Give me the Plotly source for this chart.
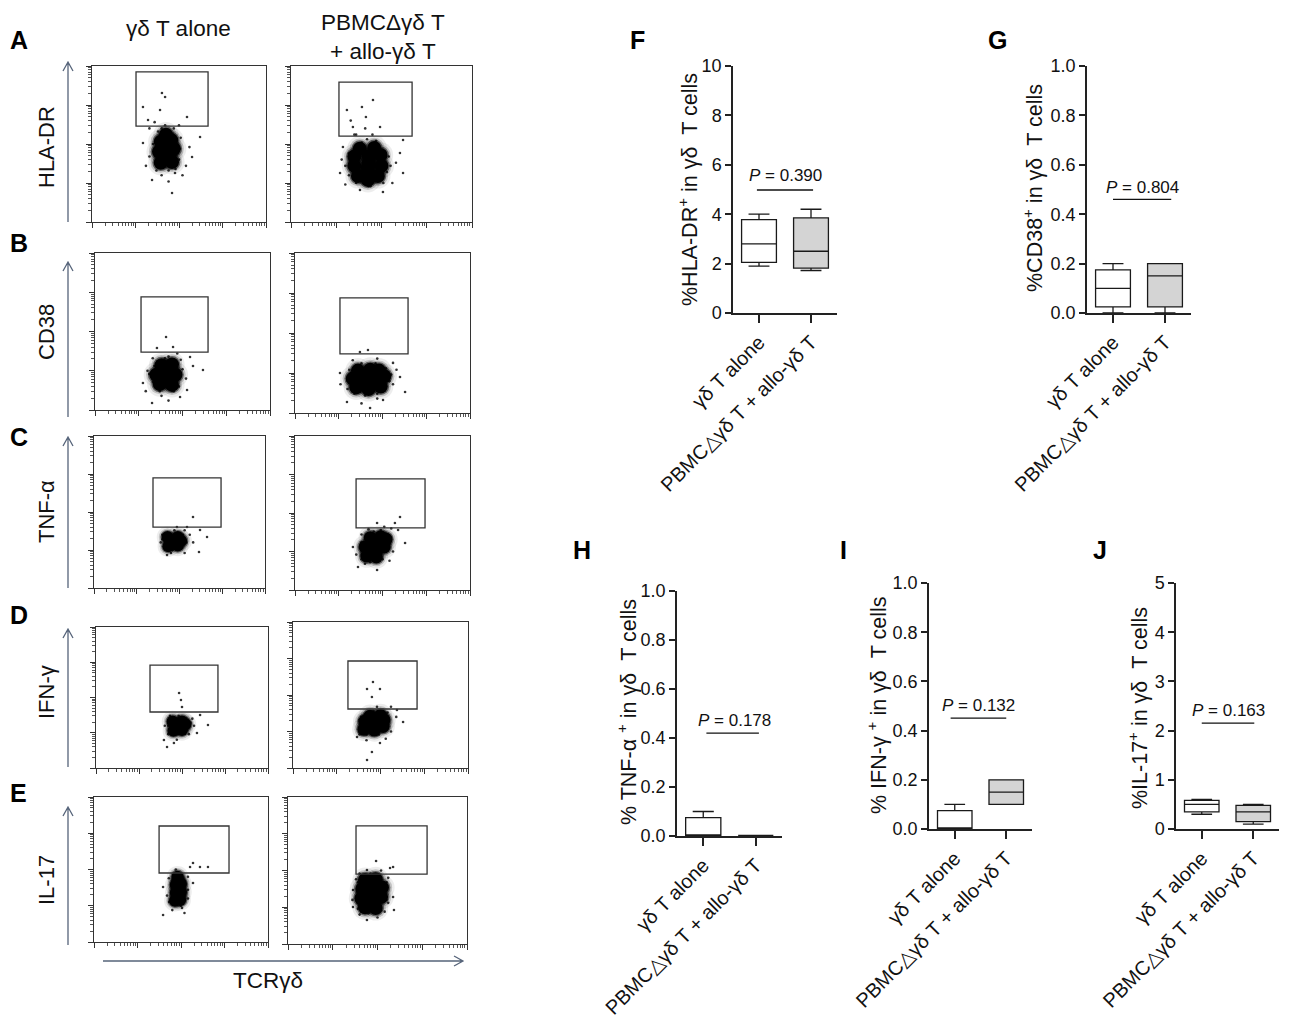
import numpy as np
import plotly.graph_objects as go

W, H = 1292, 1024
OFF = 8  # page body offset of the rendered figure
FONT = "Liberation Sans, Arial, sans-serif"
NB = "\u00a0"

# ------------------------------------------------------------------ data
GROUPS = ["γδ T alone", "PBMC△γδ T + allo-γδ T"]

# five-number summaries [min, q1, median, q3, max]
HLADR_ALONE = [1.9, 2.05, 2.8, 3.78, 4.0]
HLADR_COCULT = [1.72, 1.82, 2.5, 3.85, 4.2]
CD38_ALONE = [0.0, 0.025, 0.10, 0.175, 0.20]
CD38_COCULT = [0.0, 0.025, 0.15, 0.20, 0.20]
TNF_ALONE = [0.0, 0.0, 0.0, 0.075, 0.10]
TNF_COCULT = [0.002, 0.002, 0.002, 0.002, 0.002]
IFN_ALONE = [0.0, 0.0, 0.0, 0.075, 0.10]
IFN_COCULT = [0.10, 0.10, 0.15, 0.20, 0.20]
IL17_ALONE = [0.30, 0.35, 0.50, 0.58, 0.60]
IL17_COCULT = [0.10, 0.15, 0.35, 0.48, 0.50]

P_VALUES = ["0.390", "0.804", "0.178", "0.132", "0.163"]
Y_TITLES = [f"%HLA-DR<sup>+</sup> in γδ {NB}T cells",
            f"%CD38<sup>+</sup> in γδ {NB}T cells",
            f"% TNF-α <sup>+</sup> in γδ {NB}T cells",
            f"% IFN-γ <sup>+</sup> in γδ {NB}T cells",
            f"%IL-17<sup>+</sup> in γδ {NB}T cells"]
Y_MAX = [10, 1.0, 1.0, 1.0, 5]
Y_TICKVALS = [[0, 2, 4, 6, 8, 10],
              [0, 0.2, 0.4, 0.6, 0.8, 1.0],
              [0, 0.2, 0.4, 0.6, 0.8, 1.0],
              [0, 0.2, 0.4, 0.6, 0.8, 1.0],
              [0, 1, 2, 3, 4, 5]]
Y_TICKTEXT = [["0", "2", "4", "6", "8", "10"],
              ["0.0", "0.2", "0.4", "0.6", "0.8", "1.0"],
              ["0.0", "0.2", "0.4", "0.6", "0.8", "1.0"],
              ["0.0", "0.2", "0.4", "0.6", "0.8", "1.0"],
              ["0", "1", "2", "3", "4", "5"]]

ROW_MARKERS = ["HLA-DR", "CD38", "TNF-α", "IFN-γ", "IL-17"]
COLUMN_TITLES = ["γδ T alone", "PBMCΔγδ T<br>+ allo-γδ T"]

# flow cytometry events (channel units 0-1000, log display) : gates [x0, x1, y0, y1]
HLA_ALONE_GATE = [253, 667, 615, 962]
HLA_ALONE_CORE = [(395, 380), (460, 385), (385, 450), (450, 445), (470, 470), (395, 515),
                  (455, 525), (425, 560), (430, 415), (430, 490)]
HLA_ALONE_EVENTS = [(402, 827), (420, 801), (293, 737), (621, 545), (460, 186), (345, 269),
                    (546, 673), (322, 654), (391, 718), (575, 417), (293, 506), (477, 314),
                    (330, 600), (360, 640), (500, 620), (520, 300), (330, 420), (560, 480),
                    (400, 300), (440, 260), (310, 360), (540, 360),
                    (370, 330), (480, 340), (500, 400), (350, 500), (510, 540), (380, 580),
                    (470, 600), (420, 620), (360, 470), (505, 470), (440, 330), (400, 600)]
HLA_COCULT_GATE = [265, 669, 551, 897]
HLA_COCULT_CORE = [(425, 270), (370, 295), (480, 295), (350, 360), (425, 350), (500, 360),
                   (350, 420), (430, 420), (495, 430), (380, 470), (460, 475), (425, 310),
                   (430, 385)]
HLA_COCULT_EVENTS = [(392, 737), (309, 718), (414, 673), (342, 609), (492, 609), (619, 526),
                     (271, 314), (619, 314), (381, 205), (508, 192), (602, 442), (287, 481),
                     (453, 782), (330, 650), (360, 560), (450, 560), (280, 400), (560, 250),
                     (300, 240), (440, 230), (580, 380), (350, 560), (410, 600),
                     (320, 300), (530, 320), (540, 420), (320, 440), (390, 510), (470, 520),
                     (430, 230), (360, 250), (510, 250), (300, 360), (550, 360), (420, 530)]
CD38_ALONE_GATE = [263, 646, 369, 720]
CD38_ALONE_CORE = [(370, 165), (440, 160), (350, 225), (410, 230), (460, 225), (380, 285),
                   (440, 290), (410, 190), (420, 260)]
CD38_ALONE_EVENTS = [(406, 465), (354, 395), (446, 401), (617, 255), (326, 45), (274, 172),
                     (526, 127), (543, 338), (486, 83), (300, 250), (520, 200), (330, 330),
                     (470, 360), (380, 90), (560, 280), (290, 120), (420, 60),
                     (330, 180), (480, 150), (500, 260), (340, 280), (400, 330), (450, 120),
                     (370, 120), (310, 230), (490, 320), (420, 340)]
CD38_COCULT_GATE = [257, 646, 369, 719]
CD38_COCULT_CORE = [(350, 160), (420, 150), (490, 165), (330, 215), (400, 215), (470, 220),
                    (510, 230), (360, 265), (430, 270), (480, 265), (420, 185)]
CD38_COCULT_EVENTS = [(417, 394), (371, 381), (560, 313), (629, 131), (297, 69), (429, 31),
                      (257, 250), (503, 81), (600, 225), (300, 150), (560, 180), (470, 340),
                      (330, 330), (260, 180), (380, 60), (580, 270), (470, 90),
                      (300, 200), (540, 200), (520, 280), (310, 270), (380, 310), (460, 310),
                      (400, 110), (470, 120), (340, 120), (550, 240)]
TNF_ALONE_GATE = [345, 743, 401, 724]
TNF_ALONE_CORE = [(435, 275), (490, 280), (430, 335), (490, 335), (462, 305), (510, 310)]
TNF_ALONE_EVENTS = [(579, 467), (620, 382), (544, 401), (614, 237), (427, 217), (409, 270),
                    (485, 401), (661, 336), (560, 350), (390, 300), (530, 230), (450, 230),
                    (580, 300), (400, 350), (530, 380),
                    (420, 250), (510, 260), (520, 350), (420, 360), (470, 380), (460, 250),
                    (400, 320), (540, 300)]
TNF_COCULT_GATE = [349, 743, 403, 721]
TNF_COCULT_CORE = [(410, 220), (465, 215), (400, 280), (455, 285), (510, 280), (430, 340),
                   (490, 345), (520, 330), (460, 250)]
TNF_COCULT_EVENTS = [(600, 474), (571, 435), (589, 390), (469, 435), (360, 149), (469, 130),
                     (629, 305), (331, 279), (550, 400), (560, 250), (350, 230), (400, 170),
                     (540, 190), (380, 360), (510, 410), (420, 395),
                     (380, 200), (500, 200), (540, 300), (380, 310), (450, 380), (530, 360),
                     (430, 180), (490, 390)]
IFN_ALONE_GATE = [314, 709, 397, 730]
IFN_ALONE_CORE = [(450, 265), (500, 270), (445, 330), (500, 330), (475, 300), (520, 310)]
IFN_ALONE_EVENTS = [(483, 532), (494, 482), (500, 433), (605, 376), (651, 305), (413, 149),
                    (453, 177), (395, 199), (587, 248), (560, 350), (420, 240), (400, 300),
                    (540, 240), (430, 370), (570, 300), (470, 200),
                    (430, 250), (520, 260), (530, 340), (430, 350), (480, 370), (470, 240),
                    (420, 300), (550, 320)]
IFN_COCULT_GATE = [314, 709, 404, 733]
IFN_COCULT_CORE = [(405, 265), (465, 260), (410, 320), (470, 320), (520, 330), (440, 355),
                   (500, 360), (515, 285), (440, 290)]
IFN_COCULT_EVENTS = [(457, 589), (423, 541), (497, 541), (451, 486), (594, 397), (629, 315),
                     (423, 55), (451, 110), (366, 212), (497, 171), (380, 330), (560, 420),
                     (560, 250), (380, 230), (420, 190), (530, 200), (480, 420), (590, 350),
                     (380, 250), (490, 230), (540, 310), (390, 350), (460, 390), (540, 380),
                     (420, 230), (520, 270)]
IL17_ALONE_GATE = [374, 776, 476, 800]
IL17_ALONE_CORE = [(465, 285), (495, 290), (470, 340), (500, 345), (470, 395), (500, 400),
                   (480, 450), (490, 315), (485, 370), (485, 425)]
IL17_ALONE_EVENTS = [(569, 545), (609, 517), (655, 517), (552, 517), (397, 186), (431, 276),
                     (506, 234), (569, 407), (397, 379), (420, 320), (540, 300), (540, 450),
                     (430, 440), (520, 200), (450, 220), (540, 360), (470, 500),
                     (450, 260), (510, 270), (515, 340), (450, 350), (520, 420), (455, 420),
                     (480, 480), (500, 250)]
IL17_COCULT_GATE = [380, 777, 476, 803]
IL17_COCULT_CORE = [(430, 250), (490, 245), (410, 310), (470, 310), (520, 320), (415, 375),
                    (475, 375), (525, 385), (430, 435), (490, 440), (450, 345), (455, 280),
                    (460, 410)]
IL17_COCULT_EVENTS = [(492, 565), (587, 524), (570, 517), (363, 367), (587, 320), (441, 163),
                      (363, 252), (592, 231), (441, 503), (360, 300), (380, 440), (560, 450),
                      (540, 220), (400, 200), (500, 180), (560, 280), (400, 480), (520, 500),
                      (390, 240), (520, 230), (550, 300), (385, 330), (390, 420), (550, 420),
                      (460, 480), (510, 470), (450, 210)]

# ------------------------------------------------------------------ layout helpers
def fx(p):
    return (p - OFF) / W


def fy(p):
    return 1 - (p - OFF) / H


def axname(i, kind):
    return kind if i == 1 else f"{kind}{i}"


fig = go.Figure()
layout = dict(width=W, height=H, autosize=False,
              margin=dict(l=0, r=0, t=0, b=0, pad=0, autoexpand=False),
              paper_bgcolor="white", plot_bgcolor="white", showlegend=False,
              font=dict(family=FONT, color="#111"))
shapes, annotations = [], []

# ---------------- dot plots
DOT_SETS = [
    (HLA_ALONE_GATE, HLA_ALONE_CORE, HLA_ALONE_EVENTS),
    (HLA_COCULT_GATE, HLA_COCULT_CORE, HLA_COCULT_EVENTS),
    (CD38_ALONE_GATE, CD38_ALONE_CORE, CD38_ALONE_EVENTS),
    (CD38_COCULT_GATE, CD38_COCULT_CORE, CD38_COCULT_EVENTS),
    (TNF_ALONE_GATE, TNF_ALONE_CORE, TNF_ALONE_EVENTS),
    (TNF_COCULT_GATE, TNF_COCULT_CORE, TNF_COCULT_EVENTS),
    (IFN_ALONE_GATE, IFN_ALONE_CORE, IFN_ALONE_EVENTS),
    (IFN_COCULT_GATE, IFN_COCULT_CORE, IFN_COCULT_EVENTS),
    (IL17_ALONE_GATE, IL17_ALONE_CORE, IL17_ALONE_EVENTS),
    (IL17_COCULT_GATE, IL17_COCULT_CORE, IL17_COCULT_EVENTS),
]
DOT_FRAMES = [(92, 266, 66, 222), (291, 472, 66, 222),
              (95, 270, 253, 410), (295, 470, 253, 413),
              (94, 265, 436, 588), (295, 470, 436, 590),
              (96, 268, 627, 768), (293, 468, 622, 768),
              (94, 268, 797, 942), (288, 467, 797, 944)]
CORE_SIZE = [14, 14, 14, 14, 12, 13, 12, 13, 12, 14]

major = [0, 250, 500, 750, 1000]
minor = [250 * k + 250 * np.log10(m) for k in range(4) for m in range(2, 10)]

for i, ((gate, core, events), (x0, x1, yt, yb)) in enumerate(zip(DOT_SETS, DOT_FRAMES)):
    n = i + 1
    xa, ya = axname(n, "xaxis"), axname(n, "yaxis")
    xr, yr = axname(n, "x"), axname(n, "y")
    common = dict(range=[0, 1000], showline=True, mirror=True, linecolor="#333", linewidth=1,
                  ticks="outside", tickvals=major, ticklen=5, tickcolor="#333", tickwidth=1,
                  showticklabels=False, showgrid=False, zeroline=False, fixedrange=True,
                  automargin=False,
                  minor=dict(tickvals=minor, ticklen=3, ticks="outside", tickcolor="#555",
                             showgrid=False))
    layout[xa] = dict(domain=[fx(x0), fx(x1)], anchor=yr, **common)
    layout[ya] = dict(domain=[fy(yb), fy(yt)], anchor=xr, **common)
    cx = [p[0] for p in core]
    cy = [p[1] for p in core]
    s = CORE_SIZE[i]
    for mult, op in [(1.8, 0.07), (1.45, 0.18), (1.2, 0.5), (1.0, 1.0)]:
        fig.add_trace(go.Scatter(x=cx, y=cy, mode="markers", xaxis=xr, yaxis=yr,
                                 marker=dict(size=s * mult, color="#000", opacity=op,
                                             line=dict(width=0)),
                                 hoverinfo="skip"))
    fig.add_trace(go.Scatter(x=[p[0] for p in events], y=[p[1] for p in events],
                             mode="markers", xaxis=xr, yaxis=yr,
                             marker=dict(size=2.6, color="#000", opacity=0.8,
                                         line=dict(width=0)),
                             hoverinfo="skip"))
    shapes.append(dict(type="rect", xref=xr, yref=yr, x0=gate[0], x1=gate[1],
                       y0=gate[2], y1=gate[3], line=dict(color="#333", width=1.3)))

# ---------------- box plots
BOX_DATA = [(HLADR_ALONE, HLADR_COCULT), (CD38_ALONE, CD38_COCULT), (TNF_ALONE, TNF_COCULT),
            (IFN_ALONE, IFN_COCULT), (IL17_ALONE, IL17_COCULT)]
# (axis x px, axis end px, top px, zero px)
BOX_FRAMES = [(733, 837, 66, 313), (1087, 1191, 66, 313), (677, 782, 591, 836),
              (929, 1032, 583, 829), (1176, 1279, 583, 829)]
# p-value label (x, y) and bracket (x0, x1, y) in data units
P_TEXT_POS = [(0.5, 5.55), (0.56, 0.51), (0.6, 0.473), (0.46, 0.504), (0.52, 2.40)]
P_LINE_POS = [(-0.04, 1.04, 4.98), (0.0, 1.12, 0.46), (0.06, 1.06, 0.42),
              (-0.08, 1.0, 0.451), (0.0, 1.02, 2.15)]
Y_TITLE_PX = [(688, 190), (1033, 188), (627, 712), (877, 706), (1138, 708)]
FILLS = ["#ffffff", "#d4d4d4"]

for j, ((a, b), (ax0, ax1, yt, y0)) in enumerate(zip(BOX_DATA, BOX_FRAMES)):
    n = 11 + j
    xa, ya = axname(n, "xaxis"), axname(n, "yaxis")
    xr, yr = axname(n, "x"), axname(n, "y")
    layout[xa] = dict(domain=[fx(ax0), fx(ax1)], anchor=yr, range=[-0.5, 1.5],
                      tickvals=[0, 1], ticktext=GROUPS, tickangle=-45,
                      ticks="outside", ticklen=8, tickwidth=1.5, tickcolor="#222",
                      showline=True, linecolor="#222", linewidth=1.5,
                      showgrid=False, zeroline=False, fixedrange=True, automargin=False,
                      tickfont=dict(size=20, color="#111"))
    layout[ya] = dict(domain=[fy(y0), fy(yt)], anchor=xr, range=[0, Y_MAX[j]],
                      tickvals=Y_TICKVALS[j], ticktext=Y_TICKTEXT[j],
                      ticks="outside", ticklen=6, tickwidth=1.5, tickcolor="#222",
                      showline=True, linecolor="#222", linewidth=1.5,
                      showgrid=False, zeroline=False, fixedrange=True, automargin=False,
                      tickfont=dict(size=18, color="#111"))
    for k, stats in enumerate((a, b)):
        fig.add_trace(go.Box(x=[k], lowerfence=[stats[0]], q1=[stats[1]], median=[stats[2]],
                             q3=[stats[3]], upperfence=[stats[4]], xaxis=xr, yaxis=yr,
                             width=0.67, whiskerwidth=0.6, fillcolor=FILLS[k],
                             line=dict(color="#1a1a1a", width=1.3), boxpoints=False,
                             hoverinfo="skip"))
    tx, ty = P_TEXT_POS[j]
    annotations.append(dict(xref=xr, yref=yr, x=tx, y=ty, showarrow=False,
                            text=f"<i>P</i> = {P_VALUES[j]}",
                            font=dict(size=17, color="#111")))
    lx0, lx1, ly = P_LINE_POS[j]
    shapes.append(dict(type="line", xref=xr, yref=yr, x0=lx0, x1=lx1, y0=ly, y1=ly,
                       line=dict(color="#111", width=1.3)))
    px_, py_ = Y_TITLE_PX[j]
    annotations.append(dict(xref="paper", yref="paper", x=fx(px_), y=fy(py_),
                            text=Y_TITLES[j], textangle=-90, showarrow=False,
                            xanchor="center", yanchor="middle",
                            font=dict(size=21.5, color="#111")))

# ---------------- panel letters (x given as left edge in px)
LETTERS = [("A", 8, 40), ("B", 8, 243), ("C", 8, 437), ("D", 8, 615), ("E", 8, 793),
           ("F", 628, 40), ("G", 986, 40), ("H", 571, 550), ("I", 838, 550), ("J", 1091, 550)]
for t, x, y in LETTERS:
    annotations.append(dict(xref="paper", yref="paper", x=fx(x), y=fy(y), text=f"<b>{t}</b>",
                            showarrow=False, xanchor="left", yanchor="middle",
                            font=dict(size=25, color="#000")))

# column titles
annotations.append(dict(xref="paper", yref="paper", x=fx(178), y=fy(28), text=COLUMN_TITLES[0],
                        showarrow=False, xanchor="center", yanchor="middle",
                        font=dict(size=22.5)))
annotations.append(dict(xref="paper", yref="paper", x=fx(383), y=fy(37), text=COLUMN_TITLES[1],
                        showarrow=False, xanchor="center", yanchor="middle",
                        font=dict(size=22.5)))

# row marker labels + arrows
ROW_LABEL_Y = [147, 332, 512, 692, 880]
ARROWS_V = [(222, 62), (417, 262), (588, 437), (767, 629), (945, 807)]
ARROW_COLOR = "#56647a"
for lab, ly, (ab, at) in zip(ROW_MARKERS, ROW_LABEL_Y, ARROWS_V):
    annotations.append(dict(xref="paper", yref="paper", x=fx(46), y=fy(ly), text=lab,
                            textangle=-90, showarrow=False, xanchor="center",
                            yanchor="middle", font=dict(size=22)))
    ax = 68
    path = (f"M {fx(ax)},{fy(ab)} L {fx(ax)},{fy(at)} "
            f"M {fx(ax - 5)},{fy(at + 9)} L {fx(ax)},{fy(at)} L {fx(ax + 5)},{fy(at + 9)}")
    shapes.append(dict(type="path", xref="paper", yref="paper", path=path,
                       line=dict(color=ARROW_COLOR, width=1.3)))

# horizontal arrow + TCRγδ
hy, hx0, hx1 = 961, 103, 463
path = (f"M {fx(hx0)},{fy(hy)} L {fx(hx1)},{fy(hy)} "
        f"M {fx(hx1 - 9)},{fy(hy - 5)} L {fx(hx1)},{fy(hy)} L {fx(hx1 - 9)},{fy(hy + 5)}")
shapes.append(dict(type="path", xref="paper", yref="paper", path=path,
                   line=dict(color=ARROW_COLOR, width=1.3)))
annotations.append(dict(xref="paper", yref="paper", x=fx(268), y=fy(980), text="TCRγδ",
                        showarrow=False, xanchor="center", yanchor="middle",
                        font=dict(size=22.5)))

layout["shapes"] = shapes
layout["annotations"] = annotations
fig.update_layout(**layout)
fig.write_html("out.html")
